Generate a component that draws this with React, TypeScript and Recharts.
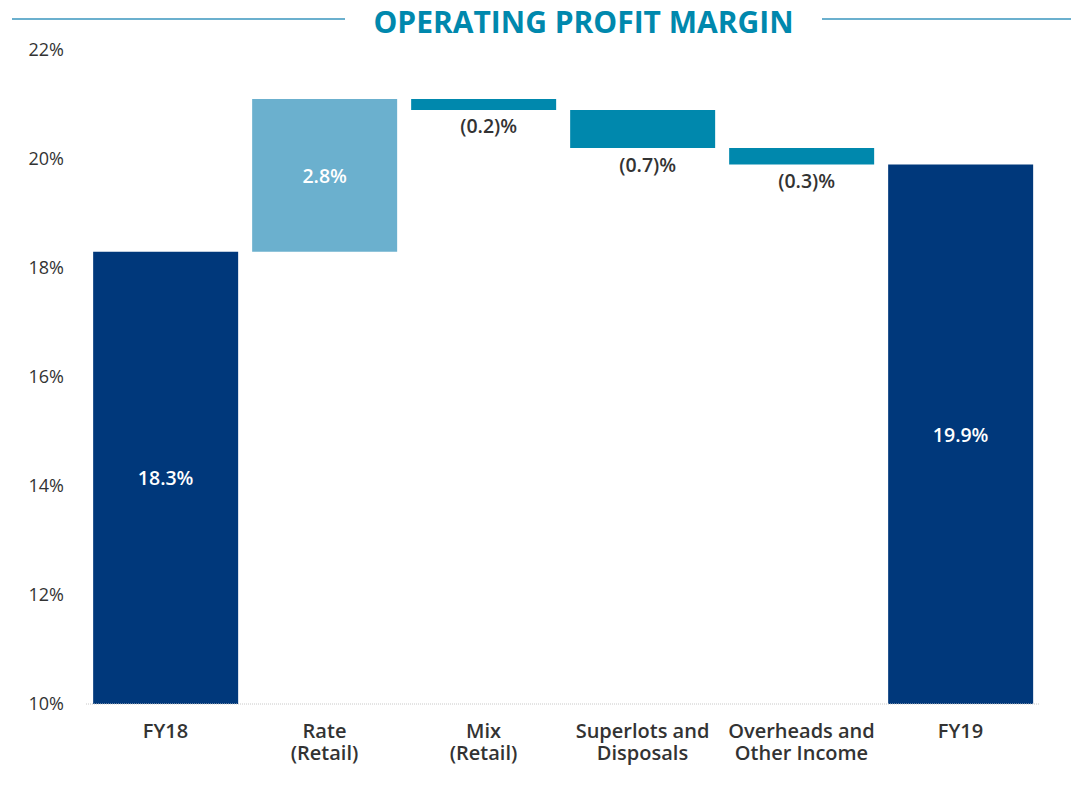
import { Bar, BarChart, Cell, LabelList, XAxis, YAxis } from "recharts";

const categories = ["FY18", "Rate\n(Retail)", "Mix\n(Retail)", "Superlots and\nDisposals", "Overheads and\nOther Income", "FY19"];
const lows = [10, 18.3, 20.9, 20.2, 19.9, 10];
const highs = [18.3, 21.1, 21.1, 20.9, 20.2, 19.9];
const labels = ["18.3%", "2.8%", "(0.2)%", "(0.7)%", "(0.3)%", "19.9%"];
const kinds = ["total", "up", "down", "down", "down", "total"];
const yTicks = [10, 12, 14, 16, 18, 20, 22];

const navy = "#00387B";
const lightBlue = "#6BB0CE";
const teal = "#0088AD";
const font = "'Open Sans', sans-serif";

const data = categories.map((name, i) => ({
  name,
  range: [lows[i], highs[i]],
  label: labels[i],
  kind: kinds[i]
}));

const colorFor = (kind: string) => (kind === "total" ? navy : kind === "up" ? lightBlue : teal);

function XTick({ x, y, payload }: any) {
  const lines = String(payload.value).split("\n");
  return (
    <g>
      {lines.map((l, i) => (
        <text key={i} x={x} y={y + 26 + i * 22} textAnchor="middle" fill="#333" fontSize={20} fontWeight={600} fontFamily={font}>
          {l}
        </text>
      ))}
    </g>
  );
}

function BarLabel(props: any) {
  const { x, y, width, height, index } = props;
  const d = data[index];
  const cx = x + width / 2;
  if (d.kind === "down") {
    return (
      <text x={cx + 5} y={y + height + 16} textAnchor="middle" dominantBaseline="central" fill="#333" fontSize={19.5} fontWeight={600} fontFamily={font}>
        {d.label}
      </text>
    );
  }
  return (
    <text x={cx} y={y + height / 2} textAnchor="middle" dominantBaseline="central" fill="#fff" fontSize={19.5} fontWeight={600} fontFamily={font}>
      {d.label}
    </text>
  );
}

export default function App() {
  return (
    <div style={{ position: "absolute", left: 0, top: 0, width: 1071, height: 802, background: "#fff", fontFamily: font }}>
      <div style={{ position: "absolute", left: 12, top: 18, width: 333, height: 2, background: lightBlue }} />
      <div style={{ position: "absolute", left: 822, top: 18, width: 249, height: 2, background: lightBlue }} />
      <div
        style={{
          position: "absolute",
          left: 345,
          width: 477,
          top: 2,
          textAlign: "center",
          color: teal,
          fontSize: 30,
          fontWeight: 700,
          lineHeight: "40px"
        }}
      >
        OPERATING PROFIT MARGIN
      </div>
      <BarChart width={1071} height={802} data={data} margin={{ top: 50, right: 31, left: 0, bottom: 0 }} barCategoryGap="4.5%">
        <XAxis
          dataKey="name"
          interval={0}
          tickLine={false}
          axisLine={{ stroke: "#c8c8c8", strokeDasharray: "1 1" }}
          tick={<XTick />}
          height={98}
        />
        <YAxis
          domain={[10, 22]}
          ticks={yTicks}
          width={86}
          axisLine={false}
          tickLine={false}
          tickMargin={16}
          tickFormatter={(v: number) => `${v}%`}
          tick={{ fill: "#333", fontSize: 18, fontFamily: font }}
        />
        <Bar dataKey="range" isAnimationActive={false}>
          {data.map((d) => (
            <Cell key={d.name} fill={colorFor(d.kind)} />
          ))}
          <LabelList dataKey="label" content={<BarLabel />} />
        </Bar>
      </BarChart>
    </div>
  );
}
